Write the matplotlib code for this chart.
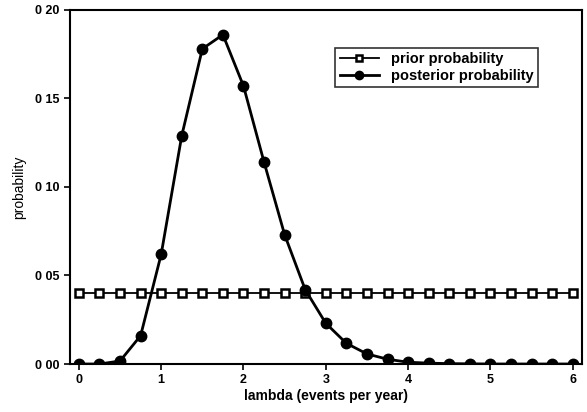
import numpy as np
import matplotlib.pyplot as plt

plt.rcParams['font.family'] = ['Liberation Sans', 'DejaVu Sans']

# lambda grid (events per year)
lam = [0, 0.25, 0.5, 0.75, 1.0, 1.25, 1.5, 1.75, 2.0, 2.25, 2.5, 2.75, 3.0,
       3.25, 3.5, 3.75, 4.0, 4.25, 4.5, 4.75, 5.0, 5.25, 5.5, 5.75, 6.0]
prior = [0.04] * 25
posterior = [0.0, 0.0, 0.0017, 0.016, 0.062, 0.129, 0.178, 0.186, 0.157,
             0.114, 0.073, 0.042, 0.023, 0.0117, 0.0057, 0.0027, 0.001,
             0.0005, 0.0002, 0.0001, 0.0, 0.0, 0.0, 0.0, 0.0]

xticks = [0, 1, 2, 3, 4, 5, 6]
yticks = [0.0, 0.05, 0.10, 0.15, 0.20]
ylabels = ['0 00', '0 05', '0 10', '0 15', '0 20']

fig = plt.figure(figsize=(5.87, 4.12), dpi=100)
ax = fig.add_axes([0.119, 0.1165, 0.872, 0.8595])

ax.plot(lam, prior, color='black', lw=1.3, marker='s', ms=6,
        mfc='white', mec='black', mew=1.8, label='prior probability')
ax.plot(lam, posterior, color='black', lw=2.0, marker='o', ms=7.5,
        mfc='black', mec='black', label='posterior probability')

ax.set_xlim(-0.11, 6.11)
ax.set_ylim(0, 0.2)
ax.set_xticks(xticks)
ax.set_xticklabels([str(t) for t in xticks], fontweight='bold', fontsize=9)
ax.set_yticks(yticks)
ax.set_yticklabels(ylabels, fontweight='bold', fontsize=9)
ax.tick_params(direction='out', length=4, width=1.2)

for s in ax.spines.values():
    s.set_linewidth(1.5)

ax.set_xlabel('lambda (events per year)', fontweight='bold', fontsize=10, labelpad=2)
ax.set_ylabel('probability', fontsize=10, labelpad=6)

leg = ax.legend(loc='upper right', bbox_to_anchor=(0.914, 0.893), fontsize=10.5,
                frameon=True, fancybox=False, edgecolor='black', markerscale=0.8,
                handlelength=2.7, borderpad=0.3, labelspacing=0.2,
                handletextpad=0.8, borderaxespad=0)
leg.get_frame().set_linewidth(1.2)
for t in leg.get_texts():
    t.set_fontweight('bold')

fig.savefig('out.png', dpi=100)
